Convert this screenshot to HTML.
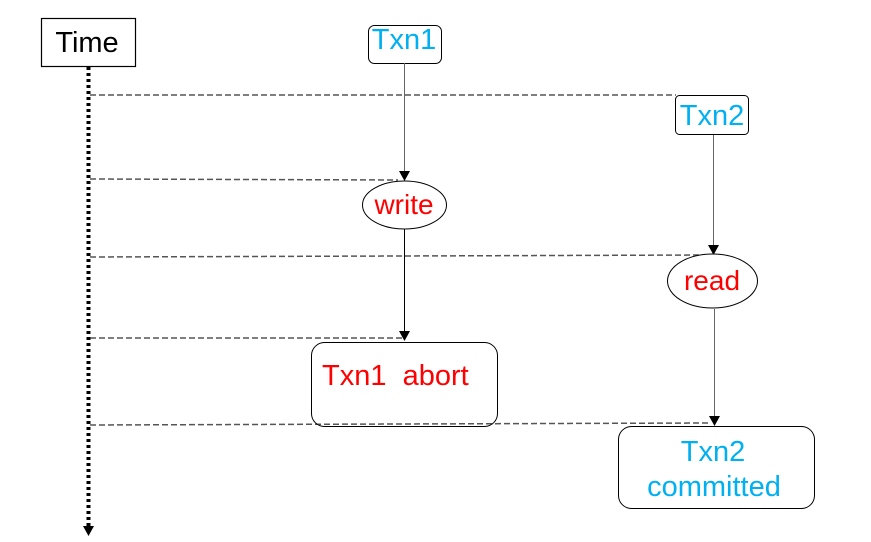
<!DOCTYPE html>
<html><head><style>body{margin:0;background:#fff}svg{display:block}text{font-family:"Liberation Sans",sans-serif}</style></head>
<body>
<svg width="871" height="542" viewBox="0 0 871 542">
<g stroke="#555" stroke-width="1.5" stroke-dasharray="6,3" fill="none">
<line x1="90" y1="95" x2="676" y2="95"/>
<line x1="90" y1="179" x2="398" y2="180"/>
<line x1="90" y1="257" x2="708" y2="255"/>
<line x1="90" y1="338" x2="404" y2="338"/>
<line x1="90" y1="425" x2="708" y2="423"/>
</g>
<rect x="41.5" y="18.5" width="94" height="48" fill="#fff" stroke="#000" stroke-width="1.2"/>
<text x="87" y="52" font-size="29" text-anchor="middle">Time</text>
<line x1="88.5" y1="67" x2="88.5" y2="526" stroke="#000" stroke-width="4" stroke-dasharray="3,3"/>
<path d="M83,526 L94,526 L88.5,536 Z" fill="#000"/>
<rect x="368.5" y="25.5" width="73" height="38" rx="6" fill="#fff" stroke="#000"/>
<text x="404" y="49" font-size="29" fill="#00b0f0" text-anchor="middle">Txn1</text>
<line x1="404.5" y1="63" x2="404.5" y2="172" stroke="#666"/>
<path d="M399,171 L410,171 L404.5,181 Z" fill="#000"/>
<ellipse cx="404.5" cy="205" rx="42" ry="24" fill="#fff" stroke="#000"/>
<text x="404" y="214" font-size="28" fill="#f00" text-anchor="middle">write</text>
<line x1="404.5" y1="229" x2="404.5" y2="332" stroke="#000"/>
<path d="M399,331 L410,331 L404.5,341 Z" fill="#000"/>
<rect x="311.5" y="342.5" width="186" height="84" rx="13" fill="none" stroke="#000"/>
<text x="322" y="385" font-size="29" fill="#f00" xml:space="preserve">Txn1  abort</text>
<rect x="675.5" y="95.5" width="73" height="39" rx="4" fill="#fff" stroke="#000"/>
<text x="712" y="125" font-size="29" fill="#00b0f0" text-anchor="middle">Txn2</text>
<line x1="713.5" y1="135" x2="713.5" y2="246" stroke="#666"/>
<path d="M708,245 L719,245 L713.5,255 Z" fill="#000"/>
<ellipse cx="712.5" cy="281" rx="45" ry="27" fill="#fff" stroke="#000"/>
<text x="712" y="290" font-size="28" fill="#f00" text-anchor="middle">read</text>
<line x1="714.5" y1="309" x2="714.5" y2="417" stroke="#666"/>
<path d="M709,416 L720,416 L714.5,426 Z" fill="#000"/>
<rect x="618.5" y="426.5" width="196" height="82" rx="13" fill="none" stroke="#000"/>
<text x="713" y="461" font-size="29" fill="#00b0f0" text-anchor="middle">Txn2</text>
<text x="714" y="496" font-size="29" fill="#00b0f0" text-anchor="middle">committed</text>
</svg>
</body></html>
